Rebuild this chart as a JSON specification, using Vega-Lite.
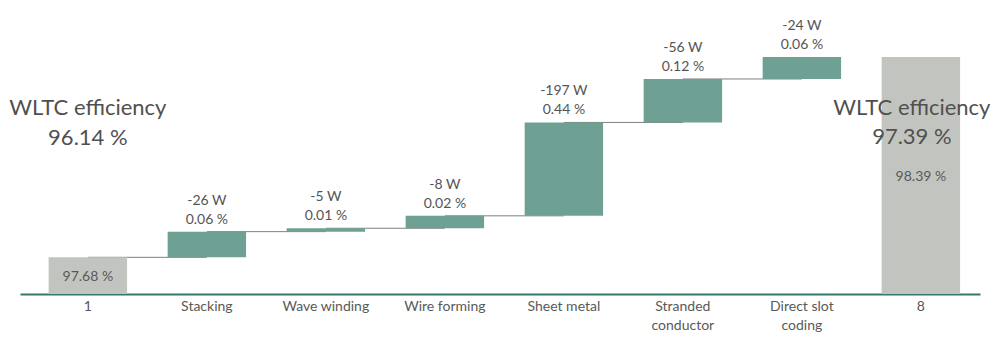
{
  "$schema": "https://vega.github.io/schema/vega-lite/v6.json",
  "width": 960,
  "height": 285,
  "autosize": {"type": "none"},
  "padding": {"left": 20, "top": 9, "right": 19, "bottom": 57},
  "background": "white",
  "config": {"view": {"stroke": null}, "font": "Lato"},
  "data": {
    "values": [
      {"cat": "1", "next": "Stacking", "start": 97.55, "end": 97.68, "kind": "total", "label": "", "inner": "97.68 %", "note": "WLTC efficiency\n96.14 %"},
      {"cat": "Stacking", "next": "Wave winding", "start": 97.68, "end": 97.771, "kind": "step", "label": "-26 W\n0.06 %"},
      {"cat": "Wave winding", "next": "Wire forming", "start": 97.771, "end": 97.783, "kind": "step", "label": "-5 W\n0.01 %"},
      {"cat": "Wire forming", "next": "Sheet metal", "start": 97.783, "end": 97.827, "kind": "step", "label": "-8 W\n0.02 %"},
      {"cat": "Sheet metal", "next": "Stranded conductor", "start": 97.827, "end": 98.158, "kind": "step", "label": "-197 W\n0.44 %"},
      {"cat": "Stranded conductor", "next": "Direct slot coding", "start": 98.158, "end": 98.312, "kind": "step", "label": "-56 W\n0.12 %"},
      {"cat": "Direct slot coding", "start": 98.312, "end": 98.39, "kind": "step", "label": "-24 W\n0.06 %"},
      {"cat": "8", "start": 97.55, "end": 98.39, "kind": "total", "label": "", "inner": "98.39 %", "note": "WLTC efficiency\n97.39 %"}
    ]
  },
  "encoding": {
    "x": {
      "field": "cat",
      "type": "nominal",
      "sort": null,
      "scale": {
        "domain": ["1", "Stacking", "Wave winding", "Wire forming", "Sheet metal", "Stranded conductor", "Direct slot coding", "8"],
        "paddingInner": 0.341,
        "paddingOuter": 0.204,
        "align": 0.59
      },
      "axis": {
        "title": null,
        "labelAngle": 0,
        "ticks": false,
        "domainColor": "#35796a",
        "domainWidth": 2,
        "labelFont": "Lato",
        "labelFontSize": 14,
        "labelColor": "#595959",
        "labelPadding": 5,
        "labelLineHeight": 19,
        "labelLimit": 200,
        "labelExpr": "datum.label == 'Stranded conductor' ? ['Stranded', 'conductor'] : datum.label == 'Direct slot coding' ? ['Direct slot', 'coding'] : datum.label"
      }
    }
  },
  "layer": [
    {
      "transform": [{"filter": "isValid(datum.next)"}],
      "mark": {"type": "rule", "color": "#808080", "strokeWidth": 1},
      "encoding": {
        "x2": {"field": "next"},
        "y": {"field": "end", "type": "quantitative", "scale": {"domain": [97.55, 98.56], "zero": false, "nice": false}, "axis": null}
      }
    },
    {
      "mark": {"type": "bar"},
      "encoding": {
        "y": {"field": "end", "type": "quantitative"},
        "y2": {"field": "start"},
        "color": {"field": "kind", "type": "nominal", "scale": {"domain": ["total", "step"], "range": ["#c2c5bf", "#6fa094"]}, "legend": null}
      }
    },
    {
      "transform": [{"filter": "datum.kind == 'step'"}],
      "mark": {"type": "text", "font": "Lato", "fontSize": 14, "color": "#555555", "lineBreak": "\n", "lineHeight": 19, "baseline": "middle", "dy": -31},
      "encoding": {
        "y": {"field": "end", "type": "quantitative"},
        "text": {"field": "label"}
      }
    },
    {
      "transform": [{"filter": "datum.cat == '1'"}],
      "mark": {"type": "text", "font": "Lato", "fontSize": 14, "color": "#595959", "baseline": "middle", "dy": 20},
      "encoding": {
        "y": {"field": "end", "type": "quantitative"},
        "text": {"field": "inner"}
      }
    },
    {
      "transform": [{"filter": "datum.cat == '8'"}],
      "mark": {"type": "text", "font": "Lato", "fontSize": 14, "color": "#595959", "baseline": "middle", "dy": 120},
      "encoding": {
        "y": {"field": "end", "type": "quantitative"},
        "text": {"field": "inner"}
      }
    },
    {
      "transform": [{"filter": "datum.cat == '1'"}],
      "mark": {"type": "text", "font": "Lato", "fontSize": 22, "color": "#505050", "lineBreak": "\n", "lineHeight": 29.5, "baseline": "middle", "dy": -149.3},
      "encoding": {
        "y": {"field": "end", "type": "quantitative"},
        "text": {"field": "note"}
      }
    },
    {
      "transform": [{"filter": "datum.cat == '8'"}],
      "mark": {"type": "text", "font": "Lato", "fontSize": 22, "color": "#505050", "lineBreak": "\n", "lineHeight": 29.5, "baseline": "middle", "dy": 51, "dx": -9},
      "encoding": {
        "y": {"field": "end", "type": "quantitative"},
        "text": {"field": "note"}
      }
    }
  ]
}
